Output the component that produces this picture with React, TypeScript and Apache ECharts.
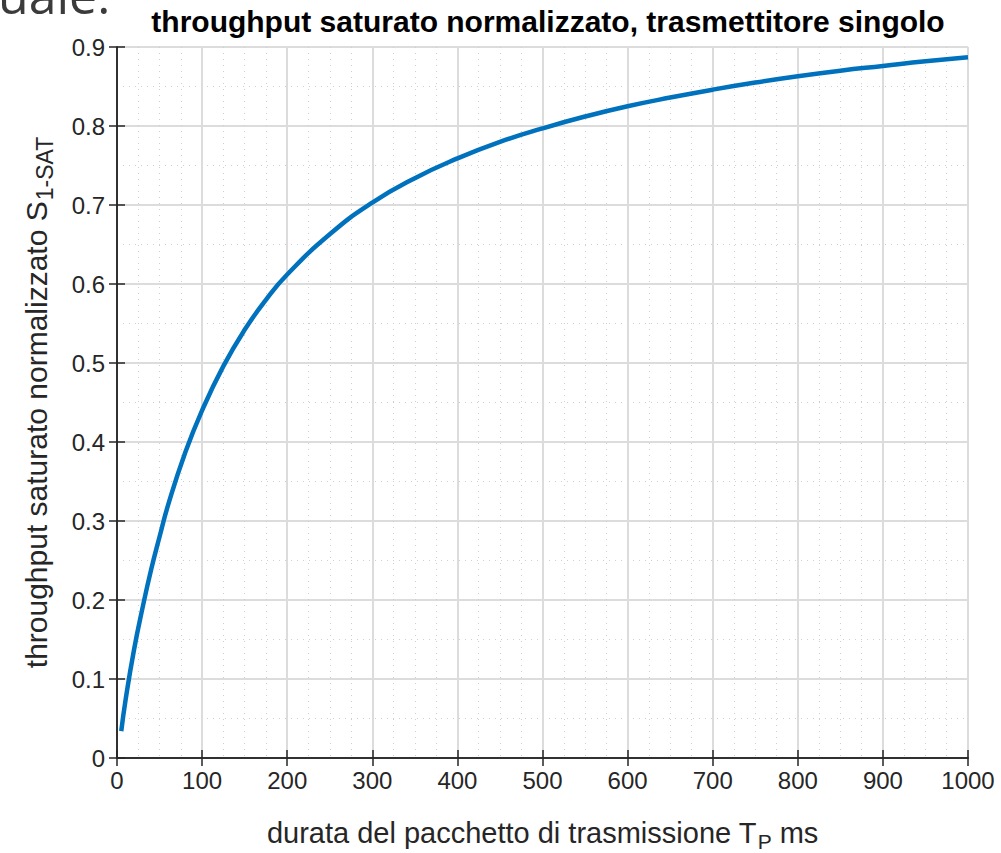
import React, { useEffect, useRef } from "react";
import * as echarts from "echarts";

const durationMs = [5, 10, 20, 30, 40, 50, 60, 80, 100, 125, 150, 175, 200, 250, 300, 350, 400, 450, 500, 550, 600, 650, 700, 750, 800, 850, 900, 950, 1000];
const throughput = [0.034, 0.073, 0.137, 0.19, 0.238, 0.28, 0.32, 0.386, 0.44, 0.496, 0.542, 0.58, 0.612, 0.663, 0.703, 0.734, 0.759, 0.78, 0.797, 0.812, 0.825, 0.836, 0.846, 0.855, 0.863, 0.87, 0.876, 0.882, 0.887];

const titleText = "throughput saturato normalizzato, trasmettitore singolo";
const FONT = "Liberation Sans, Arial, sans-serif";
const AX = "#262626";

export default function App() {
  const ref = useRef<HTMLDivElement>(null);
  useEffect(() => {
    document.body.style.margin = "0";
    document.body.style.overflow = "hidden";
    const chart = echarts.init(ref.current!, undefined, { renderer: "svg" });
    const data = durationMs.map((d, i) => [d, throughput[i]]);
    const boxAxis = {
      axisLine: { show: true, lineStyle: { color: AX, width: 1.5 } },
      axisTick: { show: true, inside: true, length: 8, lineStyle: { color: AX, width: 1.5 } },
      axisLabel: { show: false },
      splitLine: { show: false },
    };
    chart.setOption({
      animation: false,
      backgroundColor: "#ffffff",
      textStyle: { fontFamily: FONT },
      title: {
        text: titleText,
        left: 543,
        top: 1,
        textAlign: "center",
        textStyle: { fontFamily: FONT, fontWeight: "bold", fontSize: 30, color: "#000" },
      },
      graphic: [
        {
          type: "text",
          left: -2,
          top: -30,
          style: { text: "uale:", fontFamily: "Open Sans, sans-serif", fontSize: 50, fill: "#3b3b3b" },
        },
      ],
      grid: { left: 117, right: 33, top: 47, bottom: 95, containLabel: false, outerBoundsMode: "none" },
      xAxis: [
        {
          type: "value",
          min: 0,
          max: 1000,
          interval: 100,
          position: "bottom",
          axisLine: { show: true, onZero: false, lineStyle: { color: AX, width: 1.5 } },
          axisTick: { show: true, inside: true, length: 8, lineStyle: { color: AX, width: 1.5 } },
          axisLabel: { color: AX, fontSize: 24, fontFamily: FONT, margin: 10, formatter: (v: number) => String(v) },
          splitLine: { show: true, lineStyle: { color: "#dcdcdc", width: 2 } },
          minorTick: { show: false, splitNumber: 4 },
          minorSplitLine: { show: true, lineStyle: { color: "#cfcfcf", width: 1, type: [1, 5] } },
          name: "{a|durata del pacchetto di trasmissione T}{s|P}{a| ms}",
          nameLocation: "middle",
          nameGap: 56,
          nameTextStyle: {
            rich: {
              a: { fontSize: 29, color: AX, fontFamily: FONT },
              s: { fontSize: 21, color: AX, fontFamily: FONT, padding: [17, 0, 0, 1] },
            },
          },
        },
        { type: "value", min: 0, max: 1000, interval: 100, position: "top", ...boxAxis },
      ],
      yAxis: [
        {
          type: "value",
          min: 0,
          max: 0.9,
          interval: 0.1,
          position: "left",
          axisLine: { show: true, onZero: false, lineStyle: { color: AX, width: 1.5 } },
          axisTick: { show: true, inside: true, length: 8, lineStyle: { color: AX, width: 1.5 } },
          axisLabel: { color: AX, fontSize: 24, fontFamily: FONT, margin: 12 },
          splitLine: { show: true, lineStyle: { color: "#dcdcdc", width: 2 } },
          minorTick: { show: false, splitNumber: 2 },
          minorSplitLine: { show: true, lineStyle: { color: "#cfcfcf", width: 1, type: [1, 5] } },
          name: "{a|throughput saturato normalizzato S}{s|1-SAT}",
          nameLocation: "middle",
          nameGap: 61,
          nameTextStyle: {
            rich: {
              a: { fontSize: 30, color: AX, fontFamily: FONT },
              s: { fontSize: 23, color: AX, fontFamily: FONT, padding: [17, 0, 0, 1] },
            },
          },
        },
        { type: "value", min: 0, max: 0.9, interval: 0.1, position: "right", ...boxAxis },
      ],
      series: [
        {
          type: "line",
          data,
          smooth: true,
          showSymbol: false,
          symbol: "none",
          lineStyle: { color: "#0072BD", width: 4.5 },
          z: 5,
        },
      ],
    });
    return () => chart.dispose();
  }, []);
  return <div ref={ref} style={{ position: "fixed", left: 0, top: 0, width: 1001, height: 853 }} />;
}
